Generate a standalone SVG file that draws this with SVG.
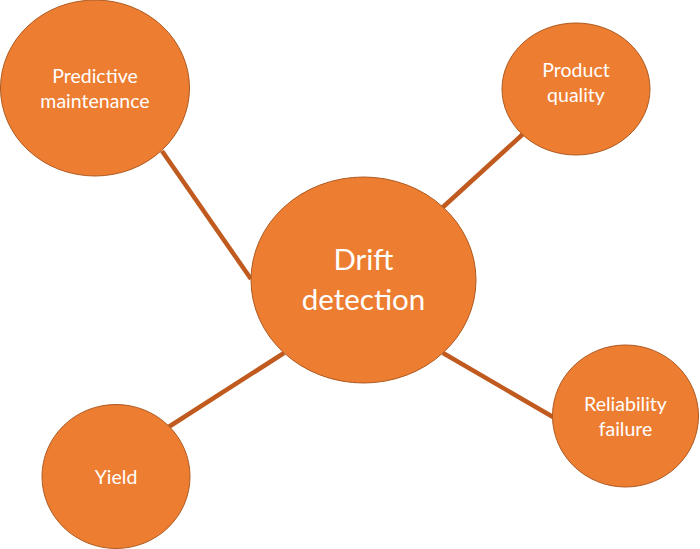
<svg xmlns="http://www.w3.org/2000/svg" width="700" height="549" viewBox="0 0 700 549">
<style>
.node ellipse{fill:#ED7D31;stroke:#AE5A21;stroke-width:1}
.node text{fill:#FFFFFF;font-family:Lato,"Open Sans","Liberation Sans",sans-serif;text-anchor:middle}
.s{font-size:19.5px}
.l{font-size:29.5px}
.conn line{stroke:#C05A1E;stroke-width:4.5}
</style>
<rect width="700" height="549" fill="#FFFFFF"/>
<g id="connectors" class="conn">
<line x1="162" y1="151" x2="251" y2="279"/>
<line x1="523" y1="134" x2="442" y2="208"/>
<line x1="284" y1="353" x2="167" y2="428"/>
<line x1="443" y1="353" x2="553" y2="417"/>
</g>
<g id="predictive-maintenance" class="node">
<ellipse cx="95" cy="88" rx="94.5" ry="88"/>
<text class="s" x="95" y="83">Predictive</text>
<text class="s" x="95" y="108">maintenance</text>
</g>
<g id="product-quality" class="node">
<ellipse cx="576" cy="89" rx="74" ry="66"/>
<text class="s" x="576" y="77">Product</text>
<text class="s" x="576" y="102">quality</text>
</g>
<g id="drift-detection" class="node">
<ellipse cx="363.5" cy="280" rx="112.5" ry="103"/>
<text class="l" x="363.5" y="270">Drift</text>
<text class="l" x="363.5" y="310">detection</text>
</g>
<g id="yield" class="node">
<ellipse cx="116" cy="476.5" rx="74" ry="72"/>
<text class="s" x="116" y="484">Yield</text>
</g>
<g id="reliability-failure" class="node">
<ellipse cx="625.5" cy="416" rx="73" ry="71"/>
<text class="s" x="625.5" y="411">Reliability</text>
<text class="s" x="625.5" y="436">failure</text>
</g>
</svg>
